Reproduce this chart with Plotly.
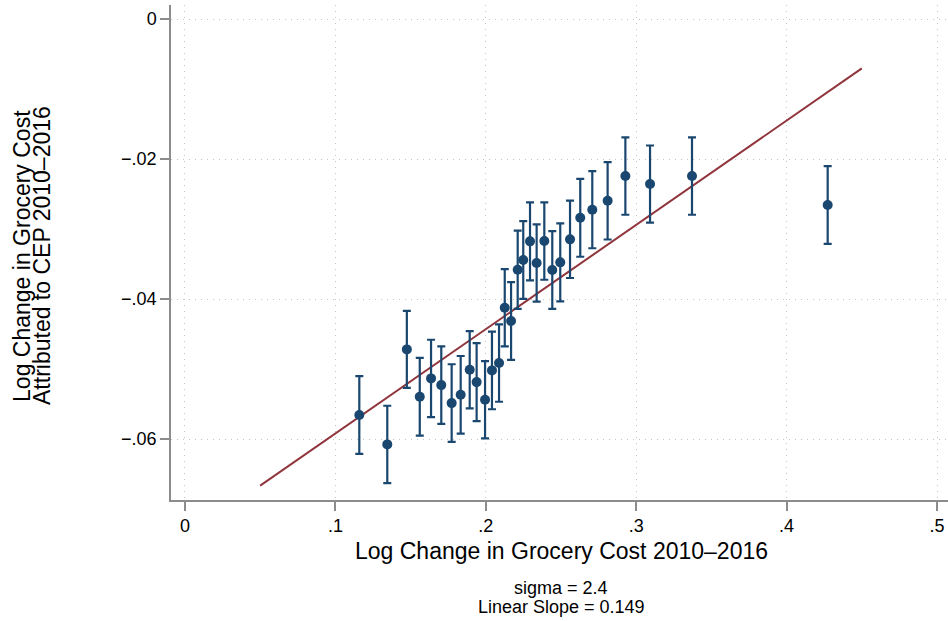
import plotly.graph_objects as go

# Binned means of grocery cost change vs. CEP-attributed change, with 95% CI half-widths
bin_x = [0.1159, 0.1345, 0.1475, 0.1561, 0.1636, 0.1704, 0.1773, 0.1833, 0.1893, 0.1939,
         0.1995, 0.2041, 0.2088, 0.2126, 0.2168, 0.2212, 0.2249, 0.2294, 0.2338, 0.2389,
         0.2442, 0.2495, 0.2560, 0.2628, 0.2708, 0.2810, 0.2928, 0.3092, 0.3371, 0.4273]
bin_y = [-0.05657, -0.06076, -0.04719, -0.05396, -0.05133, -0.05229, -0.05486, -0.05367, -0.05010, -0.05186,
         -0.05439, -0.05019, -0.04914, -0.04124, -0.04314, -0.03581, -0.03443, -0.03176, -0.03486, -0.03171,
         -0.03586, -0.03476, -0.03147, -0.02839, -0.02724, -0.02596, -0.02243, -0.02357, -0.02243, -0.02657]
bin_err = [0.00555, 0.00552, 0.00550, 0.00555, 0.00552, 0.00553, 0.00555, 0.00554, 0.00552, 0.00557,
           0.00552, 0.00555, 0.00553, 0.00552, 0.00555, 0.00559, 0.00555, 0.00557, 0.00552, 0.00553,
           0.00555, 0.00557, 0.00552, 0.00557, 0.00550, 0.00553, 0.00553, 0.00550, 0.00553, 0.00555]

# Linear fit
slope = 0.149
intercept = -0.0741
fit_x = [0.05, 0.45]
fit_y = [intercept + slope * v for v in fit_x]

sigma = 2.4

x_ticks = [0, 0.1, 0.2, 0.3, 0.4, 0.5]
x_tick_text = ["0", ".1", ".2", ".3", ".4", ".5"]
y_ticks = [0, -0.02, -0.04, -0.06]
y_tick_text = ["0", "\u2212.02", "\u2212.04", "\u2212.06"]

NAVY = "#1a476f"
MAROON = "#90353b"
FONT = "Liberation Sans, Arial, sans-serif"

fig = go.Figure()
fig.add_trace(go.Scatter(
    x=fit_x, y=fit_y, mode="lines",
    line=dict(color=MAROON, width=2), hoverinfo="skip", showlegend=False))
fig.add_trace(go.Scatter(
    x=bin_x, y=bin_y, mode="markers",
    marker=dict(color=NAVY, size=10),
    error_y=dict(type="data", array=bin_err, visible=True, color=NAVY, thickness=2.2, width=4),
    showlegend=False))

axis_common = dict(
    showline=True, linecolor="#8c8c8c", linewidth=1.5,
    ticks="outside", ticklen=9, tickwidth=1.5, tickcolor="#8c8c8c",
    showgrid=True, gridcolor="#c4c4c4", griddash="1px,5px", gridwidth=1.2,
    zeroline=False, mirror=False,
    tickfont=dict(family=FONT, size=18, color="#000"),
)

fig.update_layout(
    width=948, height=621,
    margin=dict(l=171, r=0, t=5, b=121),
    paper_bgcolor="white", plot_bgcolor="white",
    font=dict(family=FONT, color="#000"),
    xaxis=dict(range=[-0.0093, 0.5073], tickvals=x_ticks, ticktext=x_tick_text, **axis_common),
    yaxis=dict(range=[-0.0687, 0.002], tickvals=y_ticks, ticktext=y_tick_text, **axis_common),
)

annotations = [
    dict(text="Log Change in Grocery Cost 2010\u20132016", x=0.502, y=-0.103,
         font=dict(size=23)),
    dict(text="Log Change in Grocery Cost", x=-0.1918, y=0.493, textangle=-90,
         font=dict(size=23)),
    dict(text="Attributed to CEP 2010\u20132016", x=-0.166, y=0.493, textangle=-90,
         font=dict(size=23)),
    dict(text=f"sigma = {sigma}", x=0.502, y=-0.1774, font=dict(size=18)),
    dict(text=f"Linear Slope = {slope}", x=0.502, y=-0.2152, font=dict(size=18)),
]
for a in annotations:
    fig.add_annotation(xref="paper", yref="paper", showarrow=False,
                       xanchor="center", yanchor="middle", **a)

fig.write_html("out.html")
